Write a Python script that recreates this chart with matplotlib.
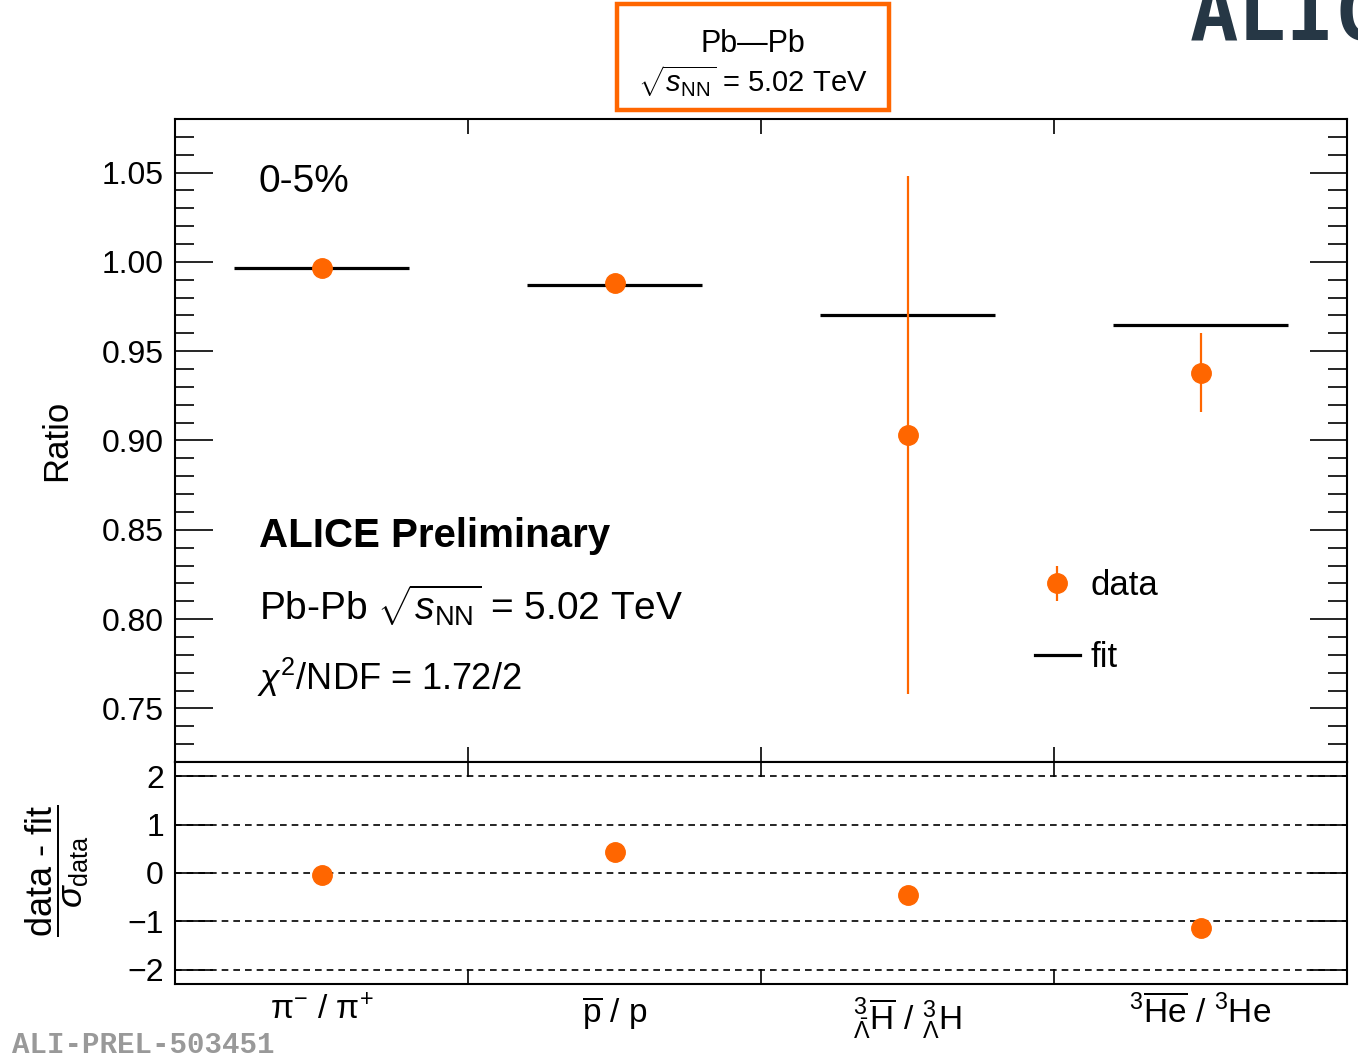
import matplotlib
matplotlib.use('Agg')
import matplotlib.pyplot as plt
from matplotlib.patches import Rectangle
from matplotlib.lines import Line2D
from matplotlib.ticker import MultipleLocator, FixedLocator
import numpy as np

plt.rcParams['font.family'] = ['Liberation Sans', 'DejaVu Sans']
plt.rcParams['mathtext.fontset'] = 'custom'
plt.rcParams['mathtext.rm'] = 'Liberation Sans'
plt.rcParams['mathtext.it'] = 'Liberation Sans:italic'
plt.rcParams['mathtext.bf'] = 'Liberation Sans:bold'

# data
labels = [u'\u03c0$^{-}$ / \u03c0$^{+}$',
          r'$\overline{\mathrm{p}}$ / p',
          r'${}^{3}_{\bar{\Lambda}}\overline{\mathrm{H}}$ / ${}^{3}_{\Lambda}\mathrm{H}$',
          r'${}^{3}\overline{\mathrm{He}}$ / ${}^{3}\mathrm{He}$']
ratio = [0.9966, 0.9880, 0.9030, 0.9380]
ratio_err = [0.001, 0.001, 0.145, 0.022]
fit = [0.9966, 0.9870, 0.9700, 0.9646]
pull = [-0.04, 0.43, -0.45, -1.13]

orange = '#ff6600'
x = np.arange(len(labels)) + 0.5

fig = plt.figure(figsize=(13.58, 10.59), dpi=100)
ax1 = fig.add_axes([0.1289, 0.2805, 0.8630, 0.6071])
ax2 = fig.add_axes([0.1289, 0.0708, 0.8630, 0.2097])

for ax in (ax1, ax2):
    for s in ax.spines.values():
        s.set_linewidth(1.5)
    ax.set_xlim(0, 4)
    ax.xaxis.set_major_locator(FixedLocator([1, 2, 3]))
    ax.tick_params(axis='x', which='major', direction='in', top=True, bottom=True,
                   length=11, width=1.2, labelbottom=False)
    ax.tick_params(axis='y', which='major', direction='in', left=True, right=True,
                   length=27, width=1.2, labelsize=23, pad=8)
    ax.tick_params(axis='y', which='minor', direction='in', left=True, right=True,
                   length=14, width=1.2)

# top panel
ax1.set_ylim(0.72, 1.08)
ax1.yaxis.set_major_locator(MultipleLocator(0.05))
ax1.yaxis.set_minor_locator(MultipleLocator(0.01))
ax1.yaxis.set_major_formatter(plt.FormatStrFormatter('%.2f'))
ax1.set_ylabel('Ratio', fontsize=25)
ax1.yaxis.set_label_coords(-0.087, 0.5)

ax1.hlines(fit, x - 0.3, x + 0.3, color='black', lw=2.3, label='fit')
ax1.errorbar(x, ratio, yerr=ratio_err, fmt='o', color=orange, ms=14,
             elinewidth=1.6, capsize=0, label='data')

ax1.text(0.071, 0.886, '0-5%', transform=ax1.transAxes, fontsize=28, va='baseline')
ax1.text(0.072, 0.334, 'ALICE Preliminary', transform=ax1.transAxes, fontsize=29,
         fontweight='bold', va='baseline')
ax1.text(0.072, 0.221, r'Pb-Pb $\sqrt{s_{\mathrm{NN}}}$ = 5.02 TeV', transform=ax1.transAxes,
         fontsize=28, va='baseline')
ax1.text(0.07, 0.112, r'$\chi^{2}$/NDF = 1.72/2', transform=ax1.transAxes,
         fontsize=26, va='baseline')

h_data = ax1.errorbar([], [], yerr=[], fmt='o', color=orange, ms=14, elinewidth=1.6)
h_fit = Line2D([], [], color='black', lw=2.3)
ax1.legend([h_data, h_fit], ['data', 'fit'], loc='upper left', bbox_to_anchor=(0.707, 0.348),
           frameon=False, fontsize=25, handlelength=1.3, labelspacing=1.1, handletextpad=0.3)

# bottom panel
ax2.set_ylim(-2.3, 2.3)
ax2.yaxis.set_major_locator(MultipleLocator(1))
ax2.tick_params(axis='y', which='minor', left=False, right=False)
for lv in [-2, -1, 0, 1, 2]:
    ax2.axhline(lv, color='black', lw=1.2, ls=(0, (4, 3)))
ax2.plot(x, pull, 'o', color=orange, ms=14)
ax2.xaxis.set_minor_locator(FixedLocator(list(x)))
ax2.set_xticklabels(labels, minor=True)
ax2.tick_params(axis='x', which='minor', length=0, labelbottom=True, labelsize=24, pad=8)
fig.text(0.042, 0.178, r'$\dfrac{\text{data - fit}}{\sigma_{\mathrm{data}}}$',
         rotation=90, fontsize=26, ha='center', va='center')

# header box
fig.patches.append(Rectangle((0.4543, 0.8961), 0.2003, 0.1001, transform=fig.transFigure,
                             fill=False, edgecolor=orange, lw=3.2))
fig.text(0.5545, 0.951, 'Pb\u2014Pb', fontsize=22, ha='center', va='baseline')
fig.text(0.5545, 0.913, r'$\sqrt{s_{\mathrm{NN}}}$ = 5.02 TeV', fontsize=21, ha='center',
         va='baseline')

fig.text(0.876, 0.9622, 'ALICE', fontsize=58, family='DejaVu Sans Mono', fontweight='bold',
         color='#263745', va='baseline')
fig.text(0.009, 0.0, 'ALI-PREL-503451', fontsize=21, family='Liberation Mono',
         fontweight='bold', color='#999999', va='bottom')

fig.savefig('out.png', dpi=100)
